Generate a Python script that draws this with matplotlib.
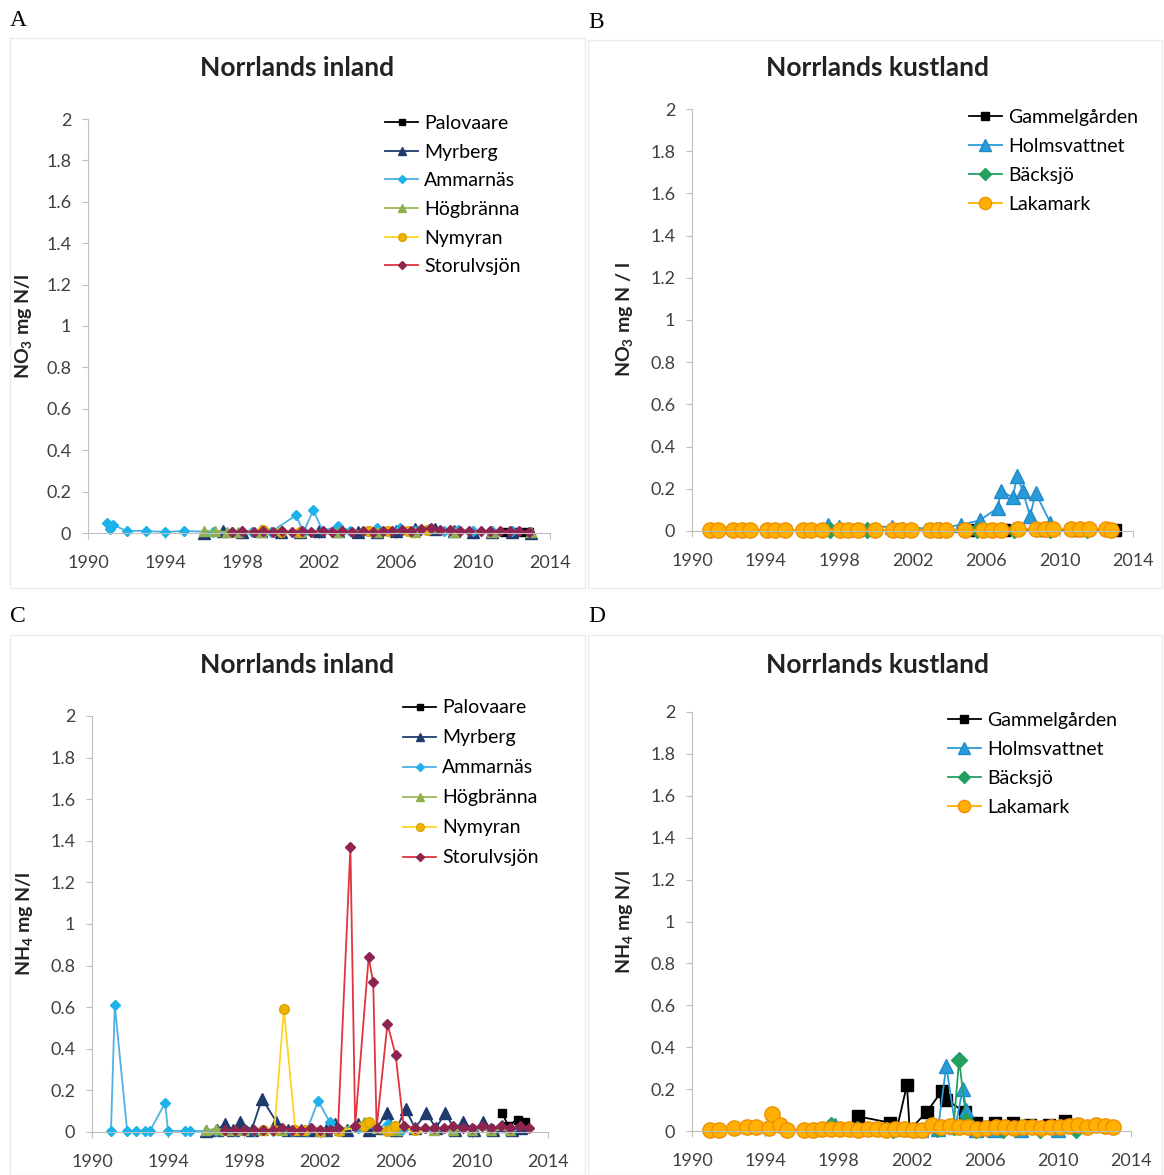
import matplotlib
matplotlib.use('Agg')
import matplotlib.pyplot as plt
from matplotlib.patches import Rectangle

plt.rcParams['font.family'] = ['Lato', 'DejaVu Sans']
plt.rcParams['mathtext.fontset'] = 'custom'
plt.rcParams['mathtext.rm'] = 'Lato'
plt.rcParams['mathtext.bf'] = 'Lato:bold'

# ---------------- data (year, mg N/l) ----------------
years_ticks = [1990, 1994, 1998, 2002, 2006, 2010, 2014]
y_ticks = [0, 0.2, 0.4, 0.6, 0.8, 1, 1.2, 1.4, 1.6, 1.8, 2]
y_tick_labels = ['0', '0.2', '0.4', '0.6', '0.8', '1', '1.2', '1.4', '1.6', '1.8', '2']

# A: NO3, Norrlands inland
a_palo_x = [2011.6, 2012.1, 2012.5, 2012.9]
a_palo_y = [0.005, 0.005, 0.005, 0.005]
a_myr_x = [1996.0, 1997.0, 1998.0, 1999.0, 2000.0, 2001.0, 2002.0, 2003.0, 2004.0, 2005.0,
           2006.0, 2007.0, 2008.0, 2009.0, 2010.0, 2011.0, 2012.0, 2013.0]
a_myr_y = [0.0, 0.01, 0.005, 0.01, 0.005, 0.005, 0.01, 0.01, 0.005, 0.005,
           0.01, 0.02, 0.02, 0.01, 0.005, 0.005, 0.005, 0.0]
a_amm_x = [1991.0, 1991.15, 1991.3, 1992.0, 1993.0, 1994.0, 1995.0, 1996.5, 1997.5, 1998.5,
           1999.5, 2000.8, 2001.2, 2001.7, 2002.2, 2003.0, 2003.6, 2004.5, 2005.0, 2005.6,
           2006.2, 2007.0, 2007.7, 2008.5, 2009.2, 2010.0, 2011.0, 2012.0]
a_amm_y = [0.05, 0.02, 0.04, 0.01, 0.01, 0.005, 0.01, 0.005, 0.005, 0.005,
           0.005, 0.085, 0.005, 0.11, 0.01, 0.035, 0.01, 0.01, 0.025, 0.01,
           0.025, 0.01, 0.02, 0.01, 0.015, 0.01, 0.01, 0.01]
a_hog_x = [1996.0, 1996.6, 1997.2, 1997.8, 1999.0, 2001.0, 2003.0, 2005.0, 2007.0, 2009.0, 2011.0, 2013.0]
a_hog_y = [0.01, 0.01, 0.005, 0.005, 0.005, 0.005, 0.005, 0.005, 0.005, 0.005, 0.005, 0.005]
a_nym_x = [1999.1, 2000.0, 2001.0, 2004.6, 2005.6, 2006.6, 2007.6]
a_nym_y = [0.015, 0.005, 0.005, 0.01, 0.01, 0.01, 0.015]
a_sto_x = [1997.5, 1998.0, 1998.6, 1999.1, 1999.6, 2000.1, 2000.6, 2001.1, 2001.6, 2002.2,
           2002.7, 2003.2, 2003.7, 2004.3, 2004.8, 2005.3, 2005.8, 2006.3, 2006.8, 2007.3,
           2007.8, 2008.3, 2008.8, 2009.3, 2009.8, 2010.4, 2010.9, 2011.4, 2011.9, 2012.4, 2012.9]
a_sto_y = [0.005, 0.01, 0.005, 0.01, 0.005, 0.01, 0.005, 0.01, 0.005, 0.01,
           0.005, 0.01, 0.005, 0.01, 0.005, 0.01, 0.01, 0.015, 0.01, 0.02,
           0.025, 0.015, 0.015, 0.01, 0.01, 0.01, 0.01, 0.01, 0.01, 0.01, 0.005]

# B: NO3, Norrlands kustland
b_gam_x = [1999.0, 2001.0, 2003.0, 2005.0, 2007.0, 2009.0, 2011.0, 2013.0]
b_gam_y = [0.005, 0.005, 0.005, 0.005, 0.005, 0.005, 0.005, 0.005]
b_holm_x = [1997.4, 1998.0, 2000.9, 2003.3, 2004.65, 2005.65, 2006.65, 2006.8,
            2007.45, 2007.7, 2008.0, 2008.4, 2008.7, 2009.5]
b_holm_y = [0.03, 0.02, 0.02, 0.01, 0.03, 0.05, 0.11, 0.19,
            0.16, 0.26, 0.19, 0.07, 0.18, 0.04]
b_back_x = [1997.5, 1999.5, 2001.5, 2003.5, 2005.5, 2007.5, 2009.5, 2011.5]
b_back_y = [0.005, 0.005, 0.005, 0.005, 0.005, 0.005, 0.005, 0.005]
b_laka_x = [1991.0, 1991.4, 1992.25, 1992.7, 1993.15, 1994.06, 1994.5, 1995.05, 1996.05, 1996.5,
            1997.05, 1998.04, 1998.5, 1999.04, 1999.95, 2000.94, 2001.4, 2001.94, 2002.93, 2003.4,
            2003.84, 2004.84, 2005.83, 2006.3, 2006.83, 2007.74, 2008.74, 2009.2, 2009.64, 2010.64,
            2011.1, 2011.63, 2012.54, 2012.81]
b_laka_y = [0.005, 0.005, 0.005, 0.005, 0.005, 0.005, 0.005, 0.005, 0.005, 0.005,
            0.005, 0.005, 0.005, 0.005, 0.005, 0.005, 0.005, 0.005, 0.005, 0.005,
            0.005, 0.005, 0.005, 0.005, 0.005, 0.01, 0.01, 0.01, 0.01, 0.01,
            0.01, 0.01, 0.01, 0.005]

# C: NH4, Norrlands inland
c_palo_x = [2011.6, 2011.9, 2012.4, 2012.8]
c_palo_y = [0.09, 0.03, 0.06, 0.05]
c_myr_x = [1996.0, 1996.6, 1997.0, 1997.4, 1997.8, 1998.4, 1998.95, 1999.7, 2000.3, 2001.0,
           2001.6, 2002.3, 2002.8, 2003.4, 2004.0, 2004.6, 2005.0, 2005.5, 2006.0, 2006.5,
           2007.0, 2007.6, 2008.1, 2008.6, 2009.1, 2009.5, 2010.1, 2010.6, 2011.1, 2011.6,
           2012.1, 2012.6]
c_myr_y = [0.005, 0.01, 0.04, 0.01, 0.05, 0.01, 0.16, 0.05, 0.01, 0.01,
           0.01, 0.01, 0.04, 0.01, 0.04, 0.01, 0.02, 0.09, 0.01, 0.11,
           0.02, 0.09, 0.02, 0.09, 0.01, 0.05, 0.01, 0.05, 0.01, 0.03,
           0.01, 0.02]
c_amm_x = [1991.0, 1991.2, 1991.85, 1992.3, 1992.8, 1993.05, 1993.85, 1994.0, 1994.9, 1995.15,
           1996.5, 1997.5, 1998.5, 1999.5, 2000.5, 2001.3, 2001.9, 2002.5, 2003.0, 2004.0,
           2005.0, 2005.6, 2006.3, 2007.0, 2008.0, 2009.0, 2010.0, 2011.0, 2012.0]
c_amm_y = [0.005, 0.61, 0.005, 0.005, 0.005, 0.005, 0.14, 0.005, 0.005, 0.005,
           0.005, 0.005, 0.005, 0.005, 0.005, 0.005, 0.15, 0.05, 0.01, 0.02,
           0.02, 0.04, 0.01, 0.01, 0.01, 0.01, 0.01, 0.01, 0.01]
c_hog_x = [1996.0, 1996.5, 1997.0, 1997.5, 1998.0, 1999.0, 2000.0, 2001.0, 2002.0, 2003.0,
           2004.3, 2005.0, 2006.0, 2007.0, 2008.0, 2009.0, 2010.0, 2011.0, 2012.0]
c_hog_y = [0.01, 0.015, 0.01, 0.01, 0.01, 0.01, 0.01, 0.01, 0.005, 0.01,
           0.05, 0.02, 0.01, 0.02, 0.01, 0.01, 0.01, 0.01, 0.01]
c_nym_x = [1999.0, 1999.6, 2000.1, 2000.7, 2001.2, 2002.0, 2003.0, 2004.3, 2004.6, 2005.5,
           2005.7, 2005.95, 2007.0]
c_nym_y = [0.01, 0.01, 0.59, 0.01, 0.01, 0.005, 0.005, 0.03, 0.05, 0.005,
           0.01, 0.03, 0.01]
c_sto_x = [1997.0, 1997.5, 1998.0, 1998.5, 1999.0, 1999.5, 2000.0, 2000.5, 2001.0, 2001.5,
           2002.0, 2002.5, 2002.95, 2003.6, 2003.85, 2004.56, 2004.8, 2004.98, 2005.55, 2005.98,
           2006.4, 2007.0, 2007.5, 2008.0, 2008.5, 2009.0, 2009.5, 2010.0, 2010.5, 2011.0,
           2011.5, 2012.0, 2012.5, 2013.0]
c_sto_y = [0.01, 0.01, 0.01, 0.01, 0.01, 0.01, 0.02, 0.01, 0.01, 0.02,
           0.01, 0.01, 0.02, 1.37, 0.03, 0.84, 0.72, 0.02, 0.52, 0.37,
           0.03, 0.02, 0.02, 0.02, 0.02, 0.03, 0.02, 0.02, 0.03, 0.02,
           0.03, 0.02, 0.03, 0.02]

# D: NH4, Norrlands kustland
d_gam_x = [1999.07, 2000.8, 2001.2, 2001.75, 2001.9, 2002.83, 2003.65, 2003.9, 2004.9, 2005.55,
           2006.55, 2007.55, 2008.5, 2009.5, 2010.4, 2011.0]
d_gam_y = [0.07, 0.04, 0.01, 0.22, 0.005, 0.09, 0.19, 0.15, 0.09, 0.04,
           0.04, 0.04, 0.03, 0.03, 0.05, 0.03]
d_holm_x = [1997.8, 1999.0, 2001.0, 2002.5, 2003.45, 2003.9, 2004.4, 2004.8, 2005.0, 2005.5,
            2006.5, 2008.0, 2010.0]
d_holm_y = [0.03, 0.01, 0.01, 0.005, 0.01, 0.31, 0.02, 0.2, 0.1, 0.005,
            0.005, 0.005, 0.005]
d_back_x = [1997.6, 1999.0, 2001.0, 2003.4, 2004.3, 2004.6, 2005.0, 2005.5, 2007.0, 2009.0, 2011.0]
d_back_y = [0.03, 0.01, 0.005, 0.01, 0.02, 0.34, 0.05, 0.005, 0.005, 0.005, 0.005]
d_laka_x = [1991.0, 1991.5, 1992.3, 1993.0, 1993.5, 1994.2, 1994.35, 1994.8, 1995.2, 1996.1,
            1996.6, 1997.1, 1997.6, 1998.1, 1998.6, 1999.1, 1999.6, 2000.1, 2000.6, 2001.1,
            2001.6, 2002.1, 2002.6, 2003.1, 2003.6, 2004.1, 2004.6, 2005.1, 2005.6, 2006.1,
            2006.6, 2007.1, 2007.6, 2008.1, 2008.6, 2009.1, 2009.6, 2010.1, 2010.6, 2011.1,
            2011.6, 2012.1, 2012.6, 2013.0]
d_laka_y = [0.005, 0.005, 0.015, 0.02, 0.02, 0.015, 0.08, 0.03, 0.005, 0.005,
            0.005, 0.01, 0.01, 0.01, 0.01, 0.005, 0.01, 0.01, 0.005, 0.01,
            0.01, 0.005, 0.005, 0.03, 0.02, 0.025, 0.02, 0.02, 0.01, 0.015,
            0.02, 0.02, 0.015, 0.02, 0.02, 0.015, 0.02, 0.02, 0.025, 0.03,
            0.02, 0.03, 0.025, 0.02]

# ---------------- styles ----------------
inland_styles = {
    'Palovaare':   dict(color='#000000', marker='s', ms=6, mfc='#000000', mec='#000000'),
    'Myrberg':     dict(color='#1f3b6e', marker='^', ms=8, mfc='#1f3b6e', mec='#1f3b6e'),
    'Ammarnäs':    dict(color='#4fb0e4', marker='D', ms=5.5, mfc='#1db2ea', mec='#1db2ea'),
    'Högbränna':   dict(color='#9bbb59', marker='^', ms=7, mfc='#8fb050', mec='#8fb050'),
    'Nymyran':     dict(color='#ffd21f', marker='o', ms=7, mfc='#f0b400', mec='#d9a400'),
    'Storulvsjön': dict(color='#e2343c', marker='D', ms=5, mfc='#8e2450', mec='#8e2450'),
}
coast_styles = {
    'Gammelgården': dict(color='#000000', marker='s', ms=8, mfc='#000000', mec='#000000'),
    'Holmsvattnet': dict(color='#2a9bd9', marker='^', ms=10, mfc='#2a9bd9', mec='#1f8ac8'),
    'Bäcksjö':      dict(color='#22a060', marker='D', ms=8, mfc='#22a060', mec='#22a060'),
    'Lakamark':     dict(color='#ffb000', marker='o', ms=11, mfc='#ffb000', mec='#f09000'),
}

# layout in pixels: axes rect (left, top, right, bottom), frame, title centre, legend anchor, ylabel x
panels = [
    dict(letter='A', title='Norrlands inland', ylabel=r'NO$_\mathbf{3}$ mg N/l', styles=inland_styles,
         rect=[88, 119, 550, 533], frame=[10, 38, 585, 588], tpos=(297, 68), leg=(0.643, 1.01),
         ylab_x=35, lspace=0.6,
         series=[('Palovaare', a_palo_x, a_palo_y), ('Myrberg', a_myr_x, a_myr_y),
                 ('Ammarnäs', a_amm_x, a_amm_y), ('Högbränna', a_hog_x, a_hog_y),
                 ('Nymyran', a_nym_x, a_nym_y), ('Storulvsjön', a_sto_x, a_sto_y)]),
    dict(letter='B', title='Norrlands kustland', ylabel=r'NO$_\mathbf{3}$ mg N / l', styles=coast_styles,
         rect=[692, 109, 1133, 531], frame=[588, 40, 1162, 588], tpos=(877, 68), leg=(0.628, 1.0),
         ylab_x=636, lspace=0.62,
         series=[('Gammelgården', b_gam_x, b_gam_y), ('Holmsvattnet', b_holm_x, b_holm_y),
                 ('Bäcksjö', b_back_x, b_back_y), ('Lakamark', b_laka_x, b_laka_y)]),
    dict(letter='C', title='Norrlands inland', ylabel=r'NH$_\mathbf{4}$ mg N/l', styles=inland_styles,
         rect=[92, 716, 548, 1132], frame=[10, 635, 585, 1175], tpos=(297, 665), leg=(0.682, 1.04),
         ylab_x=36, lspace=0.67,
         series=[('Palovaare', c_palo_x, c_palo_y), ('Myrberg', c_myr_x, c_myr_y),
                 ('Ammarnäs', c_amm_x, c_amm_y), ('Högbränna', c_hog_x, c_hog_y),
                 ('Nymyran', c_nym_x, c_nym_y), ('Storulvsjön', c_sto_x, c_sto_y)]),
    dict(letter='D', title='Norrlands kustland', ylabel=r'NH$_\mathbf{4}$ mg N/l', styles=coast_styles,
         rect=[692, 712, 1131, 1131], frame=[588, 635, 1162, 1175], tpos=(877, 665), leg=(0.583, 1.0),
         ylab_x=636, lspace=0.62,
         series=[('Gammelgården', d_gam_x, d_gam_y), ('Holmsvattnet', d_holm_x, d_holm_y),
                 ('Bäcksjö', d_back_x, d_back_y), ('Lakamark', d_laka_x, d_laka_y)]),
]

W, H = 1164, 1175
fig = plt.figure(figsize=(W / 100, H / 100), dpi=100)

for p in panels:
    x0, y0, x1, y1 = p['frame']
    fig.patches.append(Rectangle((x0 / W, 1 - y1 / H), (x1 - x0) / W, (y1 - y0) / H,
                                 transform=fig.transFigure, fill=False,
                                 edgecolor='#ececec', linewidth=1.0))
    fig.text(x0 / W, 1 - (y0 - 18) / H, p['letter'], family='Liberation Serif',
             fontsize=17, va='center', ha='left')
    fig.text(p['tpos'][0] / W, 1 - p['tpos'][1] / H, p['title'], fontsize=19,
             fontweight='bold', ha='center', va='center', color='#222222')

    l, t, r, b = p['rect']
    ax = fig.add_axes([l / W, 1 - b / H, (r - l) / W, (b - t) / H])
    for name, xs, ys in p['series']:
        st = p['styles'][name]
        ax.plot(xs, ys, label=name, linewidth=1.3, color=st['color'], marker=st['marker'],
                markersize=st['ms'], markerfacecolor=st['mfc'], markeredgecolor=st['mec'],
                clip_on=False)
    ax.set_xlim(1990, 2014)
    ax.set_ylim(0, 2)
    ax.set_xticks(years_ticks)
    ax.set_yticks(y_ticks)
    ax.set_yticklabels(y_tick_labels)
    for s in ['top', 'right']:
        ax.spines[s].set_visible(False)
    ax.spines['left'].set_color('#bfbfbf')
    ax.spines['bottom'].set_color('#bfbfbf')
    ax.tick_params(axis='both', colors='#bfbfbf', labelcolor='#404040', labelsize=13,
                   length=4, direction='out')
    ax.tick_params(axis='x', pad=12)
    ax.tick_params(axis='y', pad=8)
    ax.set_ylabel(p['ylabel'], fontsize=14, fontweight='bold', color='#222222')
    ax.yaxis.set_label_coords((p['ylab_x'] - l) / (r - l), 0.5)
    ax.legend(loc='upper left', bbox_to_anchor=p['leg'], frameon=False, fontsize=14,
              borderpad=0, borderaxespad=0, handlelength=1.7, handletextpad=0.3,
              labelspacing=p['lspace'], markerscale=0.8)

fig.savefig('out.png', dpi=100)
